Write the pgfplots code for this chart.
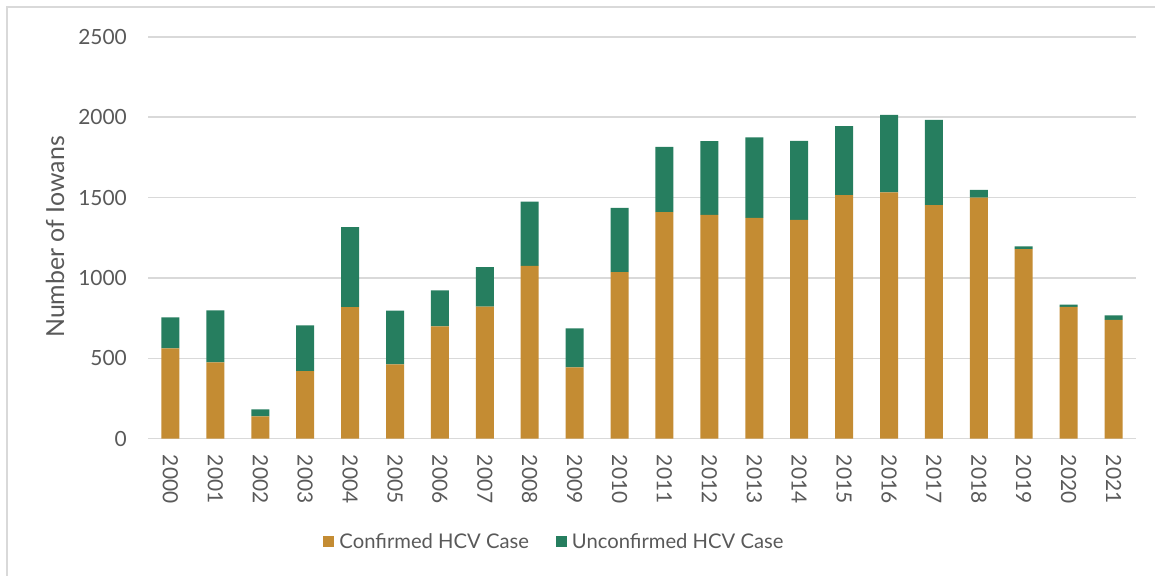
\documentclass[border=0pt]{standalone}
\usepackage{pgfplots}
\pgfplotsset{compat=1.18}
\usepackage{fontspec}
\setmainfont{Lato}
\definecolor{conf}{HTML}{C48C33}
\definecolor{unconf}{HTML}{267E5F}
\definecolor{txt}{HTML}{595959}
\definecolor{grd}{HTML}{D9D9D9}
\begin{document}
\begin{tikzpicture}[x=1bp,y=1bp]
\useasboundingbox (0,0) rectangle (1155,576);
\draw[grd, line width=1.5bp] (7,0) -- (7,569) -- (1155,569);
\node[rotate=90, text=txt, font=\fontsize{25}{29}\selectfont] at (55,339) {Number of Iowans};
\begin{axis}[
  at={(148bp,137.3bp)}, anchor=south west,
  scale only axis, width=988bp, height=401.8bp,
  ybar stacked, bar width=18bp,
  xmin=-0.5, xmax=21.5, ymin=0, ymax=2500,
  xtick={0,...,21},
  xticklabels={2000,2001,2002,2003,2004,2005,2006,2007,2008,2009,2010,2011,2012,2013,2014,2015,2016,2017,2018,2019,2020,2021},
  ytick={0,500,1000,1500,2000,2500},
  major tick length=0pt,
  axis y line*=left,
  y axis line style={draw=none},
  axis x line*=bottom,
  x axis line style={grd, line width=1.5bp},
  ymajorgrids, grid style={grd, line width=1.5bp},
  /pgf/number format/assume math mode=true,
  /pgf/number format/1000 sep={},
  yticklabel style={text=txt, font=\fontsize{21}{25}\selectfont, inner sep=0pt, anchor=east, xshift=-21bp},
  xticklabel style={text=txt, font=\fontsize{21}{25}\selectfont, rotate=-90, anchor=west, inner sep=0pt},
  xticklabel shift=16bp,
  legend columns=2,
  legend style={at={(0.4104,-0.257)}, anchor=center, draw=none, fill=none,
    font=\fontsize{20.3}{24}\selectfont, text=txt,
    nodes={inner sep=0pt},
    /tikz/every odd column/.append style={column sep=5bp},
    /tikz/every even column/.append style={column sep=27bp}},
  legend image code/.code={\fill[#1] (0bp,-5.5bp) rectangle (11bp,5.5bp);},
]
\addplot[fill=conf, draw=none] coordinates {
(0,562) (1,475) (2,139) (3,421) (4,818) (5,463) (6,699) (7,822) (8,1075) (9,444) (10,1037)
(11,1409) (12,1392) (13,1374) (14,1361) (15,1515) (16,1533) (17,1453) (18,1500) (19,1179) (20,820) (21,739)};
\addplot[fill=unconf, draw=none] coordinates {
(0,193) (1,324) (2,44) (3,284) (4,498) (5,334) (6,224) (7,245) (8,400) (9,243) (10,399)
(11,407) (12,459) (13,500) (14,492) (15,429) (16,482) (17,531) (18,48) (19,18) (20,14) (21,29)};
\legend{Confirmed HCV Case, Unconfirmed HCV Case}
\end{axis}
\end{tikzpicture}
\end{document}
